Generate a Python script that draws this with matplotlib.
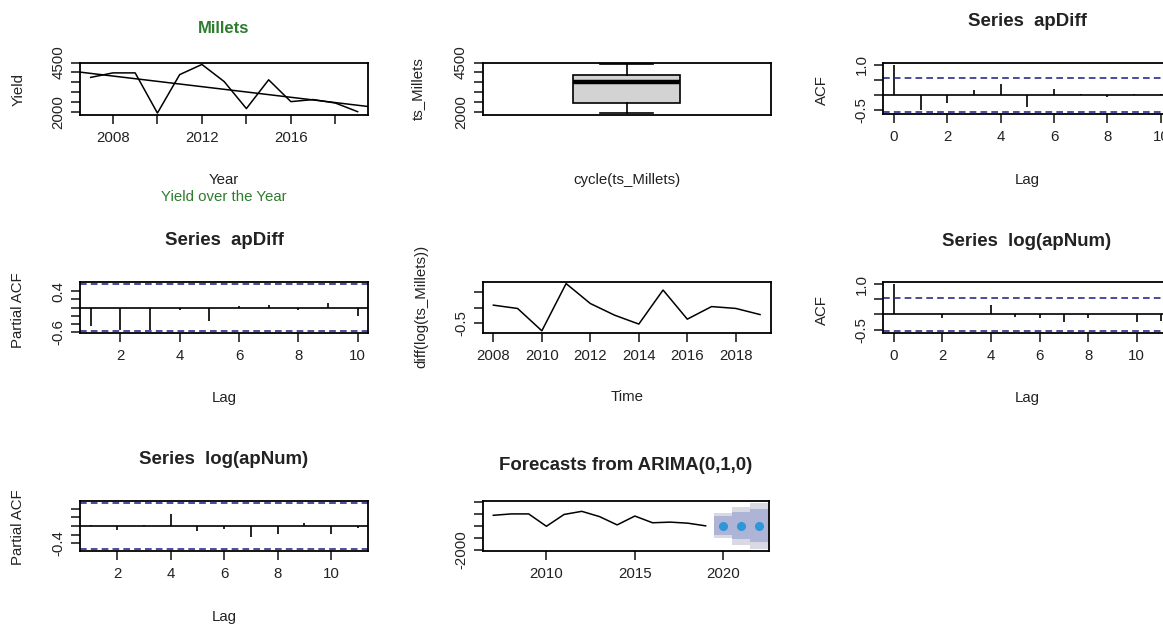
import numpy as np
import matplotlib.pyplot as plt

plt.rcParams['font.family'] = ['Liberation Sans', 'DejaVu Sans']

# --- values ---
years = [2007, 2008, 2009, 2010, 2011, 2012, 2013, 2014, 2015, 2016, 2017, 2018, 2019]
yield_vals = [3743, 3972, 3972, 1930, 3884, 4400, 3532, 2158, 3620, 2511, 2616, 2440, 2000]

diff_years = [2008, 2009, 2010, 2011, 2012, 2013, 2014, 2015, 2016, 2017, 2018, 2019]
diff_log = [0.087, -0.022, -0.75, 0.79, 0.14, -0.24, -0.53, 0.58, -0.37, 0.04, -0.02, -0.22]

acf_apdiff = [1.0, -0.48, -0.27, 0.18, 0.36, -0.39, 0.20, 0.05, -0.05, 0.05, 0.02]
pacf_apdiff = [-0.44, -0.55, -0.55, -0.06, -0.34, 0.03, 0.06, -0.05, 0.10, -0.20]
acf_lognum = [1.0, 0.03, -0.10, 0.03, 0.31, -0.07, -0.13, -0.26, -0.11, 0.0, -0.25, -0.20]
pacf_lognum = [0.02, -0.10, 0.03, 0.27, -0.12, -0.07, -0.26, -0.18, 0.08, -0.18, -0.05]
ci_apdiff = 0.57
ci_lognum = 0.54

fc_years = [2020, 2021, 2022]
fc_mean = [2000, 2000, 2000]
fc_lo80 = [450, -250, -750]
fc_hi80 = [3550, 4250, 4750]
fc_lo95 = [-50, -1100, -1850]
fc_hi95 = [4050, 5100, 5850]

W, H = 1163, 624
fig = plt.figure(figsize=(W / 100, H / 100), dpi=100)

FS = 10.8
TFS = 13.4
GREEN = '#2d7d2d'
NAVY = '#2c2c8c'


def r_lim(lo, hi):
    # R style axis range: data range plus 4 % each side
    pad = 0.04 * (hi - lo)
    return lo - pad, hi + pad


def panel(x0, y0, x1, y1):
    ax = fig.add_axes([x0 / W, 1 - y1 / H, (x1 - x0) / W, (y1 - y0) / H])
    for s in ax.spines.values():
        s.set_linewidth(1.3)
    ax.tick_params(direction='out', length=6.5, width=1.2, labelsize=FS,
                   colors='#222222')
    ax.tick_params(axis='x', pad=5)
    ax.tick_params(axis='y', pad=4)
    return ax


def yticks(ax, ticks, shown):
    labels = [(('%g' % t) if t in shown else '') for t in ticks]
    labels = [l if l not in ('1', '-2000') else l for l in labels]
    ax.set_yticks(ticks, labels, rotation=90, va='center')


def xticks(ax, ticks, shown):
    ax.set_xticks(ticks, [(str(t) if t in shown else '') for t in ticks])


def txt(x, y, s, **kw):
    kw.setdefault('fontsize', FS)
    kw.setdefault('color', '#222222')
    fig.text(x / W, 1 - y / H, s, ha='center', va='center', **kw)


def acf_panel(ax, lags, vals, ci):
    ax.vlines(lags, 0, vals, color='black', lw=1.2)
    ax.axhline(0, color='black', lw=1.2)
    for c in (ci, -ci):
        ax.axhline(c, color=NAVY, lw=1.2, ls=(0, (4, 2.5)))
    ax.set_xlim(*r_lim(lags[0], lags[-1]))
    ax.set_ylim(*r_lim(min(min(vals), -ci), max(max(vals), ci)))


# 1: yield over the years with trend
ax1 = panel(80, 62.5, 368.3, 115)
ax1.plot(years, yield_vals, color='black', lw=1.1)
slope, icpt = np.polyfit(years, yield_vals, 1)
ax1.axline((2013, slope * 2013 + icpt), slope=slope, color='black', lw=1.1)
ax1.set_xlim(*r_lim(years[0], years[-1]))
ax1.set_ylim(*r_lim(min(yield_vals), max(yield_vals)))
xticks(ax1, [2008, 2010, 2012, 2014, 2016, 2018], [2008, 2012, 2016])
yticks(ax1, [2000, 2500, 3000, 3500, 4000, 4500], [2000, 4500])
txt(224, 28.3, 'Millets', fontsize=12, fontweight='bold', color=GREEN)
txt(18.3, 89, 'Yield', rotation=90)
txt(224, 180, 'Year')
txt(224, 197, 'Yield over the Year', color=GREEN)

# 2: boxplot by cycle
ax2 = panel(482.7, 62.5, 770.7, 115)
ax2.boxplot([yield_vals], positions=[1], widths=0.372, capwidths=0.186,
            patch_artist=True,
            boxprops=dict(facecolor='#d3d3d3', edgecolor='black', lw=1.2),
            medianprops=dict(color='black', lw=3.2),
            whiskerprops=dict(color='black', lw=1.2),
            capprops=dict(color='black', lw=1.2))
ax2.set_xlim(0.5, 1.5)
ax2.set_ylim(*r_lim(min(yield_vals), max(yield_vals)))
ax2.set_xticks([])
yticks(ax2, [2000, 2500, 3000, 3500, 4000, 4500], [2000, 4500])
txt(418.3, 89, 'ts_Millets', rotation=90)
txt(626.7, 180, 'cycle(ts_Millets)')

# 3: ACF of apDiff
ax3 = panel(883.3, 62.7, 1171.5, 114.3)
acf_panel(ax3, list(range(len(acf_apdiff))), acf_apdiff, ci_apdiff)
xticks(ax3, [0, 2, 4, 6, 8, 10], [0, 2, 4, 6, 8, 10])
ax3.set_yticks([-0.5, 0.0, 0.5, 1.0], ['-0.5', '', '', '1.0'], rotation=90, va='center')
txt(1027, 21.7, 'Series  apDiff', fontsize=TFS, fontweight='bold')
txt(821.7, 90, 'ACF', rotation=90)
txt(1027, 180, 'Lag')

# 4: PACF of apDiff
ax4 = panel(80, 282.3, 368.3, 332.7)
acf_panel(ax4, list(range(1, len(pacf_apdiff) + 1)), pacf_apdiff, ci_apdiff)
xticks(ax4, [2, 4, 6, 8, 10], [2, 4, 6, 8, 10])
ax4.set_yticks([-0.6, -0.4, -0.2, 0.0, 0.2, 0.4], ['-0.6', '', '', '', '', '0.4'],
               rotation=90, va='center')
txt(224, 240.7, 'Series  apDiff', fontsize=TFS, fontweight='bold')
txt(18.3, 310, 'Partial ACF', rotation=90)
txt(224, 398.3, 'Lag')

# 5: differenced log series
ax5 = panel(482.7, 281.7, 770.7, 332.7)
ax5.plot(diff_years, diff_log, color='black', lw=1.1)
ax5.set_xlim(*r_lim(diff_years[0], diff_years[-1]))
ax5.set_ylim(*r_lim(min(diff_log), max(diff_log)))
xticks(ax5, [2008, 2010, 2012, 2014, 2016, 2018], [2008, 2010, 2012, 2014, 2016, 2018])
ax5.set_yticks([-0.5, 0.0, 0.5], ['-0.5', '', ''], rotation=90, va='center')
txt(421.7, 306.7, 'diff(log(ts_Millets))', rotation=90)
txt(626.7, 397.3, 'Time')

# 6: ACF of log(apNum)
ax6 = panel(883.3, 282.3, 1171.5, 332.7)
acf_panel(ax6, list(range(len(acf_lognum))), acf_lognum, ci_lognum)
xticks(ax6, [0, 2, 4, 6, 8, 10], [0, 2, 4, 6, 8, 10])
ax6.set_yticks([-0.5, 0.0, 0.5, 1.0], ['-0.5', '', '', '1.0'], rotation=90, va='center')
txt(1027, 241.7, 'Series  log(apNum)', fontsize=TFS, fontweight='bold')
txt(821.7, 310, 'ACF', rotation=90)
txt(1027, 398, 'Lag')

# 7: PACF of log(apNum)
ax7 = panel(80, 501, 368.3, 551)
acf_panel(ax7, list(range(1, len(pacf_lognum) + 1)), pacf_lognum, ci_lognum)
xticks(ax7, [2, 4, 6, 8, 10], [2, 4, 6, 8, 10])
ax7.set_yticks([-0.4, -0.2, 0.0, 0.2, 0.4], ['-0.4', '', '', '', ''],
               rotation=90, va='center')
txt(224, 459.3, 'Series  log(apNum)', fontsize=TFS, fontweight='bold')
txt(18.3, 526.7, 'Partial ACF', rotation=90)
txt(224, 616.7, 'Lag')

# 8: forecasts
ax8 = panel(482.7, 500.7, 769.3, 551)
ax8.plot(years, yield_vals, color='black', lw=1.1)
lo95, hi95 = np.array(fc_lo95), np.array(fc_hi95)
lo80, hi80 = np.array(fc_lo80), np.array(fc_hi80)
ax8.bar(fc_years, hi95 - lo95, bottom=lo95, width=1.0, color='#d9d9e3', lw=0)
ax8.bar(fc_years, hi80 - lo80, bottom=lo80, width=1.0, color='#aeb4d6', lw=0)
ax8.plot(fc_years, fc_mean, 'o', color='#2e96da', ms=5.5)
ax8.set_xlim(*r_lim(years[0], fc_years[-1]))
ax8.set_ylim(*r_lim(min(fc_lo95), max(fc_hi95)))
xticks(ax8, [2010, 2015, 2020], [2010, 2015, 2020])
ax8.set_yticks([-2000, 0, 2000, 4000, 6000], ['-2000', '', '', '', ''],
               rotation=90, va='center')
txt(626, 466, 'Forecasts from ARIMA(0,1,0)', fontsize=TFS, fontweight='bold')

fig.savefig('out.png', dpi=100)
